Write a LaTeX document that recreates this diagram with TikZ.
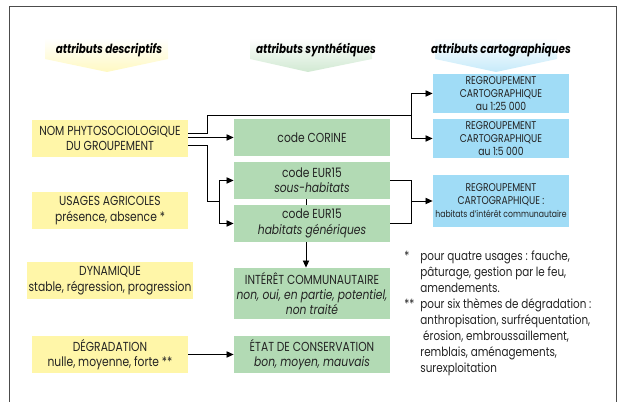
\documentclass[tikz,border=0pt]{standalone}
\usepackage{fontspec}
\setmainfont{Poppins}[FakeStretch=0.82]
\usetikzlibrary{arrows.meta}
\usetikzlibrary{calc}

\definecolor{descrYellow}{RGB}{255,246,168}
\definecolor{synthGreen}{RGB}{178,218,180}
\definecolor{cartoBlue}{RGB}{160,220,246}
\definecolor{textGrey}{RGB}{35,35,35}

\begin{document}
\begin{tikzpicture}[line width=0.6pt, text=textGrey,
        descr_style/.style={fill=descrYellow, minimum width=3.9cm, minimum height=0.925cm, align=center, inner sep=1pt, font=\fontsize{9.3}{11}\selectfont},
        synth_style/.style={fill=synthGreen, minimum width=3.9cm, minimum height=0.925cm, align=center, inner sep=1pt, font=\fontsize{9.3}{11}\selectfont},
        carto_style/.style={fill=cartoBlue, minimum width=3.4cm, minimum height=0.975cm, align=center, inner sep=1pt, font=\fontsize{8}{9.2}\selectfont},
        header_style/.style={font=\fontsize{9}{11}\selectfont\bfseries\itshape, text=black},
        edge_style/.style={draw=black, -{Triangle[length=5pt,width=4.5pt]}},
        line_style/.style={draw=black},
        frame_style/.style={draw=black!70, line width=0.7pt}]

        \useasboundingbox (0,0) rectangle (15.475,10.05);
        \draw [frame_style] (0.225,0) -- (0.225,9.9) -- (15.4,9.9) -- (15.4,0);

        % en-tetes
        \shade [top color=white, bottom color=descrYellow!70] (1.125,9.1) -- (4.2,9.1) -- (4.2,8.575) -- (2.675,8.25) -- (1.125,8.575) -- cycle;
        \shade [top color=white, bottom color=synthGreen!60] (6.25,9.1) -- (9.3,9.1) -- (9.3,8.575) -- (7.7,8.25) -- (6.25,8.575) -- cycle;
        \shade [top color=white, bottom color=cartoBlue!60] (10.875,9.1) -- (13.925,9.1) -- (13.925,8.575) -- (12.4,8.25) -- (10.875,8.575) -- cycle;
        \node [header_style](h1) at (2.725,8.8) {attributs descriptifs};
        \node [header_style](h2) at (7.9,8.8) {attributs synthétiques};
        \node [header_style](h3) at (12.525,8.8) {attributs cartographiques};

        % attributs descriptifs
        \node [descr_style](nom) at (2.75,6.588) {NOM PHYTOSOCIOLOGIQUE\\DU GROUPEMENT};
        \node [descr_style](usages) at (2.75,4.788) {USAGES AGRICOLES\\présence, absence *};
        \node [descr_style](dyna) at (2.75,3.038) {DYNAMIQUE\\stable, régression, progression};
        \node [descr_style](degr) at (2.75,1.188) {DÉGRADATION\\nulle, moyenne, forte **};

        % attributs synthetiques
        \node [synth_style](corine) at (7.8,6.613) {code CORINE};
        \node [synth_style](sous) at (7.8,5.538) {code EUR15\\\textit{sous-habitats}};
        \node [synth_style](gen) at (7.8,4.463) {code EUR15\\\textit{habitats génériques}};
        \node [synth_style, minimum height=1.275cm](interet) at (7.8,2.713) {INTÉRÊT COMMUNAUTAIRE\\\textit{non, oui, en partie, potentiel,}\\\textit{non traité}};
        \node [synth_style](etat) at (7.8,1.188) {ÉTAT DE CONSERVATION\\\textit{bon, moyen, mauvais}};

        % attributs cartographiques
        \node [carto_style](carto1) at (12.525,7.713) {REGROUPEMENT\\CARTOGRAPHIQUE\\au 1:25 000};
        \node [carto_style](carto2) at (12.525,6.588) {REGROUPEMENT\\CARTOGRAPHIQUE\\au 1:5 000};
        \node [carto_style, minimum height=1.3cm](carto3) at (12.525,5.025) {REGROUPEMENT\\CARTOGRAPHIQUE :\\{\fontsize{6.7}{9.2}\selectfont habitats d'intérêt communautaire}};

        % points de jonction
        \coordinate (a1) at (5.175,6.725);
        \coordinate (a2) at (5.175,7.175);
        \coordinate (a3) at (10.275,7.175);
        \coordinate (b1) at (5.175,6.425);
        \coordinate (b2) at (5.175,5.025);
        \coordinate (b3) at (5.475,5.025);
        \coordinate (c1) at (10.275,5.025);

        \draw [line_style] (nom.east |- a1) -- (a1) -- (a2) -- (a3);
        \draw [edge_style] (a3) |- (carto1.west);
        \draw [edge_style] (a3) |- (carto2.west);

        \draw [edge_style] (nom.east |- corine.west) -- (corine.west);

        \draw [line_style] (nom.east |- b1) -- (b1) -- (b2) -- (b3);
        \draw [edge_style] (b3) |- (sous.west);
        \draw [edge_style] (b3) |- (gen.west);

        \draw [line_style] ([xshift=-0.15cm]sous.south) -- ([xshift=-0.15cm]gen.north);
        \draw [edge_style] ([xshift=-0.15cm]gen.south) -- ([xshift=-0.15cm]interet.north);

        \draw [line_style] (sous.east) -- (sous.east -| c1) -- (gen.east -| c1) -- (gen.east);
        \draw [edge_style] (c1) -- (carto3.west);

        \draw [edge_style] (degr.east) -- (etat.west);

        % notes
        \node [anchor=north west, inner sep=0pt, font=\fontsize{9}{11.4}\selectfont](notes) at (10.1,3.84) {%
            \begin{tabular}{@{}p{0.4cm}@{}l@{}}
            {*} & pour quatre usages : fauche,\\
              & pâturage, gestion par le feu,\\
              & amendements.\\
            {**} & pour six thèmes de dégradation :\\
              & anthropisation, surfréquentation,\\
              & \ érosion, embroussaillement,\\
              & remblais, aménagements,\\
              & surexploitation
            \end{tabular}};
\end{tikzpicture}
\end{document}
